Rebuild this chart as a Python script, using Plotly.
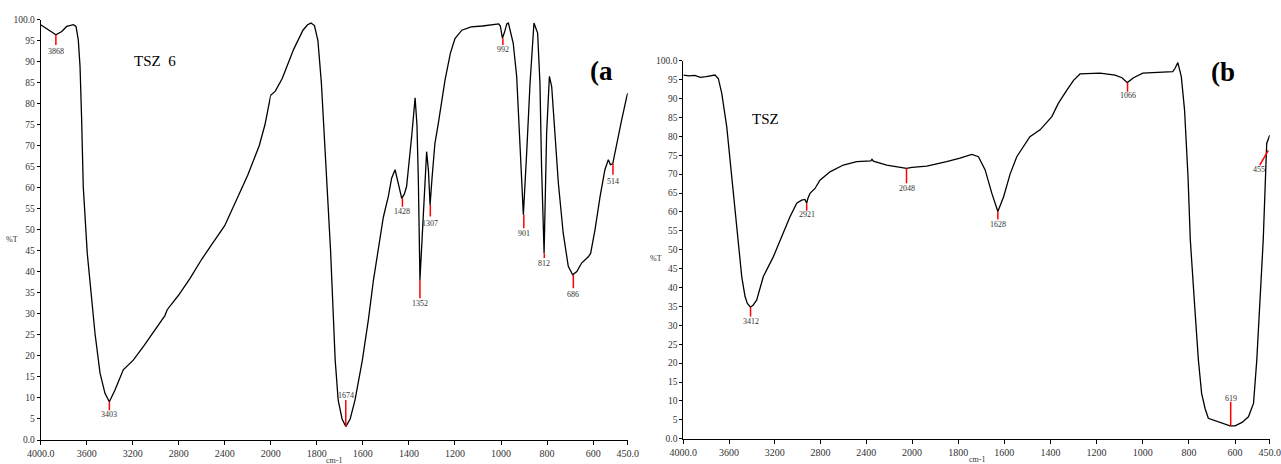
import plotly.graph_objects as go

# ---------------- data: panel (a) TSZ 6 ----------------
wn_a = [4000, 3948, 3876, 3868, 3817, 3774, 3716, 3693, 3673, 3658, 3644, 3630, 3595, 3557, 3528,
        3484, 3441, 3403, 3354, 3282, 3195, 3100, 3000, 2950, 2935, 2920, 2900, 2800, 2700, 2600,
        2500, 2400, 2300, 2200, 2100, 2050, 2000, 1980, 1950, 1900, 1860, 1840, 1825, 1810, 1795,
        1780, 1760, 1740, 1720, 1707, 1690, 1674, 1655, 1634, 1602, 1576, 1554, 1511, 1489, 1475,
        1460, 1445, 1431, 1420, 1410, 1388, 1373, 1365, 1359, 1352, 1345, 1337, 1323, 1315, 1308,
        1300, 1287, 1272, 1243, 1220, 1200, 1170, 1130, 1080, 1040, 1010, 1003, 994, 985, 975,
        968, 960, 947, 932, 918, 903, 888, 874, 857, 848, 841, 831, 824, 813, 802,
        790, 780, 766, 751, 730, 708, 689, 671, 650, 621, 611, 592, 570, 549, 534,
        525, 515, 498, 476, 454, 450]
t_a = [98.8, 97.8, 96.4, 96.4, 97.2, 98.4, 98.8, 98.4, 95.2, 88.9, 76.2, 60.3, 44.4, 33.3, 25.4,
       15.9, 11.1, 9.1, 11.9, 16.7, 19.0, 22.5, 26.5, 28.5, 29.3, 29.6, 31.0, 34.5, 38.5, 43.0,
       47.0, 51.0, 57.0, 63.0, 70.0, 75.0, 82.0, 83.0, 86.0, 93.0, 97.5, 98.8, 99.2, 98.6, 95.0,
       85.0, 65.0, 45.0, 19.0, 9.5, 5.0, 3.2, 5.0, 9.5, 19.0, 28.6, 38.0, 53.0, 58.0, 62.3,
       64.3, 61.0, 57.5, 58.5, 60.3, 72.2, 81.4, 75.0, 61.9, 38.1, 45.0, 54.0, 68.6, 64.0, 55.9,
       62.0, 70.6, 75.4, 85.7, 92.0, 95.5, 97.5, 98.3, 98.5, 98.8, 99.0, 98.5, 95.6, 97.0, 99.0,
       99.2, 97.5, 94.4, 86.5, 71.4, 53.6, 69.0, 84.9, 99.2, 98.0, 96.8, 84.9, 65.0, 44.4, 73.0,
       86.5, 84.1, 73.0, 61.1, 49.2, 41.3, 39.3, 40.1, 42.1, 43.6, 44.4, 50.0, 57.9, 64.3, 66.7,
       65.5, 65.7, 70.6, 76.2, 81.7, 82.5]

pk_a = ["3868", "3403", "1674", "1428", "1352", "1307", "992", "901", "812", "686", "514"]
pk_a_wn = [3868, 3403, 1674, 1428, 1352, 1307, 992, 901, 812, 686, 514]
pk_a_y0 = [96.4, 9.1, 3.2, 57.5, 38.1, 55.9, 95.6, 53.6, 44.4, 39.3, 65.7]
pk_a_y1 = [94.0, 7.1, 9.5, 55.5, 33.7, 53.2, 94.0, 50.4, 43.3, 36.1, 63.1]
pk_a_lab = [92.5, 6.0, 10.7, 54.4, 32.4, 51.6, 92.9, 49.2, 42.1, 34.7, 61.4]

# ---------------- data: panel (b) TSZ ----------------
wn_b = [4000, 3950, 3900, 3850, 3800, 3750, 3723, 3694, 3664, 3620, 3577, 3548, 3519, 3489, 3460,
        3440, 3412, 3390, 3358, 3300, 3213, 3154, 3067, 3008, 2965, 2936, 2921, 2910, 2892, 2848,
        2805, 2717, 2601, 2484, 2400, 2360, 2350, 2338, 2221, 2120, 2048, 2000, 1936, 1850, 1792,
        1741, 1712, 1683, 1654, 1628, 1603, 1575, 1546, 1489, 1445, 1394, 1366, 1329, 1300, 1272,
        1185, 1120, 1090, 1067, 1040, 1000, 950, 900, 870, 860, 848, 833, 819, 804, 794,
        775, 759, 745, 730, 716, 670, 622, 600, 570, 542, 520, 506, 490, 478, 463,
        455, 450]
t_b = [96.2, 96.0, 96.1, 95.6, 95.8, 96.1, 96.2, 95.3, 91.4, 82.5, 69.3, 60.5, 50.8, 42.9, 37.6,
       35.8, 34.8, 35.3, 36.7, 42.9, 48.1, 52.6, 58.7, 62.3, 63.1, 63.3, 62.3, 63.6, 64.9, 66.2,
       68.4, 70.6, 72.4, 73.3, 73.5, 73.5, 73.9, 73.4, 72.4, 71.9, 71.5, 71.8, 72.1, 73.3, 74.2,
       75.2, 74.6, 71.1, 64.9, 60.1, 64.0, 70.0, 74.6, 79.9, 81.7, 85.2, 88.7, 92.2, 94.8, 96.5,
       96.7, 96.2, 95.5, 94.2, 95.5, 96.7, 96.8, 96.9, 97.1, 98.0, 99.5, 95.8, 87.0, 69.3, 52.6,
       35.0, 20.8, 12.0, 8.0, 5.4, 4.4, 3.4, 3.4, 4.3, 5.8, 9.4, 20.8, 40.0, 52.6, 78.1,
       79.5, 80.3]

pk_b = ["3412", "2921", "2048", "1628", "1066", "619", "455"]
pk_b_x0 = [3412, 2921, 2048, 1628, 1066, 619, 456]
pk_b_x1 = [3412, 2921, 2048, 1628, 1066, 619, 493]
pk_b_y0 = [34.8, 62.3, 71.5, 60.1, 94.2, 3.4, 76.3]
pk_b_y1 = [32.3, 60.3, 67.6, 58.0, 91.8, 9.8, 72.4]
pk_b_labx = [3412, 2921, 2048, 1628, 1066, 619, 497]
pk_b_laby = [31.0, 59.2, 66.2, 56.7, 90.7, 10.7, 71.3]

hi_ticks = [4000, 3600, 3200, 2800, 2400]
hi_text = ["4000.0", "3600", "3200", "2800", "2400"]
lo_ticks = [2000, 1800, 1600, 1400, 1200, 1000, 800, 600, 450]
lo_text = ["2000", "1800", "1600", "1400", "1200", "1000", "800", "600", "450.0"]
y_ticks = list(range(0, 101, 5))
y_text = ["0.0"] + [str(v) for v in y_ticks[1:-1]] + ["100.0"]

W, H = 1281, 464
SERIF = "Liberation Serif"
TXT = "#333"


def fx(px):
    return px / W


def fy(py):
    return 1 - py / H


def label(x, y, text, size, xref="paper", yref="paper", color=TXT):
    return dict(x=x, y=y, xref=xref, yref=yref, text=text, showarrow=False,
                xanchor="center", yanchor="middle",
                font=dict(family=SERIF, size=size, color=color))


fig = go.Figure()
# each spectrum is drawn on both halves of its split wavenumber axis (each half clips to its range)
for xa in ["x", "x2"]:
    fig.add_trace(go.Scatter(x=wn_a, y=t_a, mode="lines", xaxis=xa, yaxis="y",
                             line=dict(color="black", width=1.3), showlegend=False,
                             hoverinfo="skip"))
for xa in ["x3", "x4"]:
    fig.add_trace(go.Scatter(x=wn_b, y=t_b, mode="lines", xaxis=xa, yaxis="y2",
                             line=dict(color="black", width=1.3), showlegend=False,
                             hoverinfo="skip"))

ann = []
for lab, w, y0, y1, ly in zip(pk_a, pk_a_wn, pk_a_y0, pk_a_y1, pk_a_lab):
    xa = "x" if w > 2000 else "x2"
    fig.add_trace(go.Scatter(x=[w, w], y=[y0, y1], mode="lines", xaxis=xa, yaxis="y",
                             line=dict(color="red", width=1.5), showlegend=False,
                             hoverinfo="skip"))
    ann.append(label(w, ly, lab, 8, xref=xa, yref="y"))
for lab, x0, x1, y0, y1, lx, ly in zip(pk_b, pk_b_x0, pk_b_x1, pk_b_y0, pk_b_y1, pk_b_labx, pk_b_laby):
    xa = "x3" if x0 > 2000 else "x4"
    fig.add_trace(go.Scatter(x=[x0, x1], y=[y0, y1], mode="lines", xaxis=xa, yaxis="y2",
                             line=dict(color="red", width=1.5), showlegend=False,
                             hoverinfo="skip"))
    ann.append(label(lx, ly, lab, 8, xref=xa, yref="y2"))

ann += [
    label(fx(155), fy(61), "TSZ\u00a0\u00a06", 15, color="black"),
    label(fx(601), fy(71), "<b>(a</b>", 27, color="black"),
    label(fx(765), fy(119), "TSZ", 15, color="black"),
    label(fx(1223), fy(72), "<b>(b</b>", 27, color="black"),
    label(fx(12), fy(239), "%T", 8),
    label(fx(656), fy(258), "%T", 8),
    label(fx(334), fy(460), "cm-1", 8),
    label(fx(977), fy(459), "cm-1", 8),
]

xcommon = dict(showline=True, linecolor="black", linewidth=1, ticks="outside", ticklen=4,
               tickcolor="black", showgrid=False, zeroline=False, automargin=False,
               tickfont=dict(family=SERIF, size=10, color=TXT))
ycommon = dict(range=[0, 100], tickvals=y_ticks, ticktext=y_text, showline=True,
               linecolor="black", linewidth=1, ticks="outside", ticklen=3, tickcolor="black",
               showgrid=False, zeroline=False, automargin=False,
               tickfont=dict(family=SERIF, size=9.5, color=TXT))

fig.update_layout(
    width=W, height=H, margin=dict(l=0, r=0, t=0, b=0, autoexpand=False),
    paper_bgcolor="white", plot_bgcolor="white", showlegend=False,
    xaxis=dict(domain=[fx(40.7), fx(270.7)], range=[4000, 2000], anchor="y",
               tickvals=hi_ticks, ticktext=hi_text, **xcommon),
    xaxis2=dict(domain=[fx(270.7), fx(627.7)], range=[2000, 450], anchor="y",
                tickvals=lo_ticks, ticktext=lo_text, **xcommon),
    xaxis3=dict(domain=[fx(683.3), fx(912)], range=[4000, 2000], anchor="y2",
                tickvals=hi_ticks, ticktext=hi_text, **xcommon),
    xaxis4=dict(domain=[fx(912), fx(1269.7)], range=[2000, 450], anchor="y2",
                tickvals=lo_ticks, ticktext=lo_text, **xcommon),
    yaxis=dict(domain=[fy(440), fy(19.7)], anchor="x", **ycommon),
    yaxis2=dict(domain=[fy(438.7), fy(60.7)], anchor="x3", **ycommon),
    annotations=ann,
)

fig.write_html(
    "out.html",
    config={"displayModeBar": False},
    post_script="document.body.style.margin='0';document.body.style.overflow='hidden';",
)
